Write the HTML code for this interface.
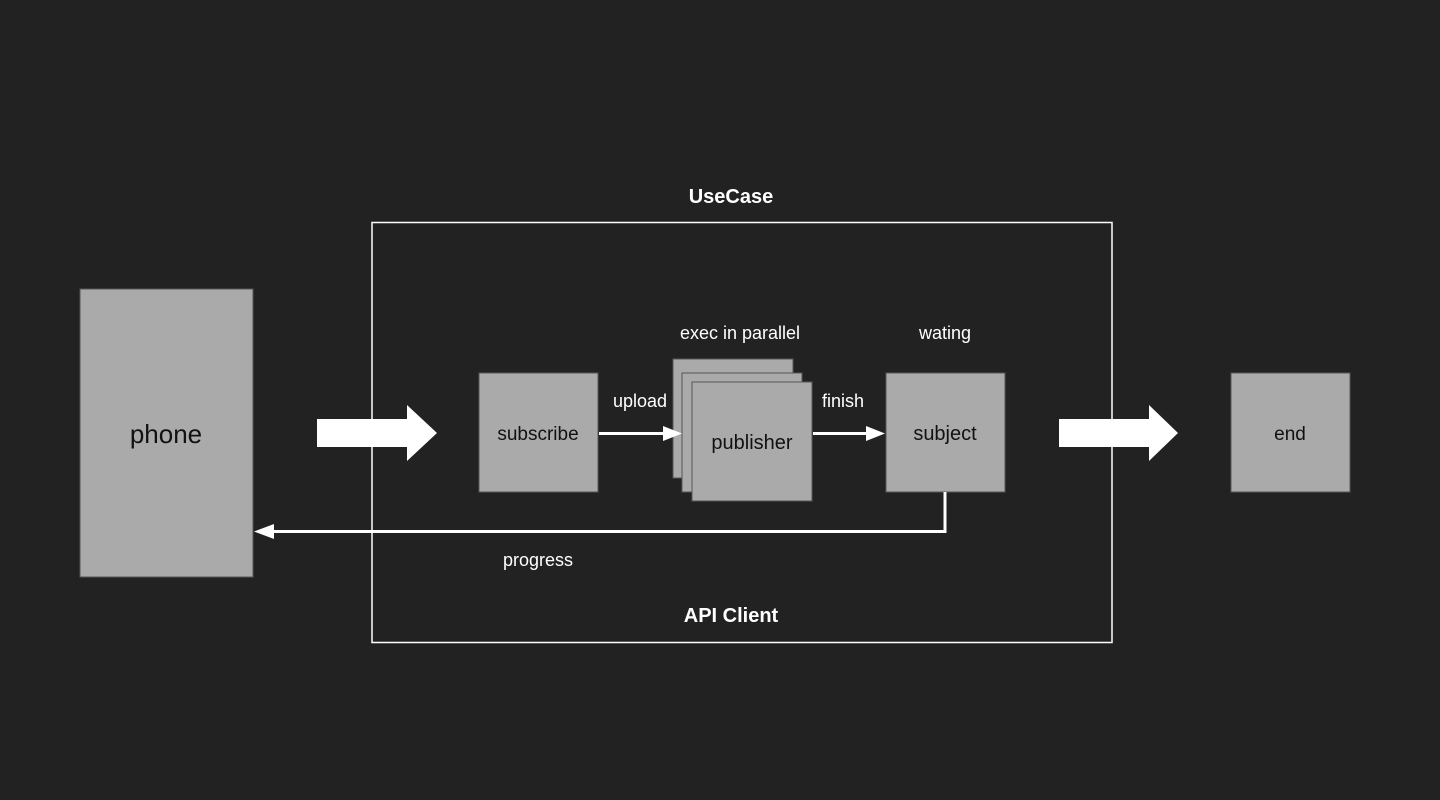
<!DOCTYPE html>
<html><head><style>html,body{margin:0;padding:0;background:#222;}svg{display:block}</style></head><body>
<svg width="1440" height="800" xmlns="http://www.w3.org/2000/svg" font-family="Liberation Sans, Arial, sans-serif">
<rect width="1440" height="800" fill="#222"/>
<rect x="372" y="222.5" width="740" height="420" fill="none" stroke="#fff" stroke-width="1.5"/>
<text x="731" y="203" fill="#fff" font-size="20" font-weight="bold" text-anchor="middle">UseCase</text>
<text x="731" y="622" fill="#fff" font-size="20" font-weight="bold" text-anchor="middle">API Client</text>
<g stroke="#555" stroke-width="1" fill="#aaa">
<rect x="80" y="289" width="173" height="288"/>
<rect x="479" y="373" width="119" height="119"/>
<rect x="673" y="359" width="120" height="119"/>
<rect x="682" y="373" width="120" height="119"/>
<rect x="692" y="382" width="120" height="119"/>
<rect x="886" y="373" width="119" height="119"/>
<rect x="1231" y="373" width="119" height="119"/>
</g>
<g fill="#111" text-anchor="middle">
<text x="166" y="443" font-size="26">phone</text>
<text x="538" y="440" font-size="19">subscribe</text>
<text x="752" y="449" font-size="20">publisher</text>
<text x="945" y="440" font-size="20">subject</text>
<text x="1290" y="440" font-size="19">end</text>
</g>
<g fill="#fff" text-anchor="middle" font-size="18">
<text x="740" y="339">exec in parallel</text>
<text x="945" y="339">wating</text>
<text x="640" y="407">upload</text>
<text x="843" y="407">finish</text>
<text x="538" y="566">progress</text>
</g>
<g fill="#fff">
<polygon points="317,419 407,419 407,405 437,433 407,461 407,447 317,447"/>
<polygon points="1059,419 1149,419 1149,405 1178,433 1149,461 1149,447 1059,447"/>
<rect x="599" y="432" width="65" height="3"/>
<polygon points="663,426 682,433.5 663,441"/>
<rect x="813" y="432" width="55" height="3"/>
<polygon points="866,426 885,433.5 866,441"/>
<polygon points="254,531.5 274,524 274,539"/>
</g>
<polyline points="945,492 945,531.5 272,531.5" fill="none" stroke="#fff" stroke-width="3"/>
</svg>
</body></html>
